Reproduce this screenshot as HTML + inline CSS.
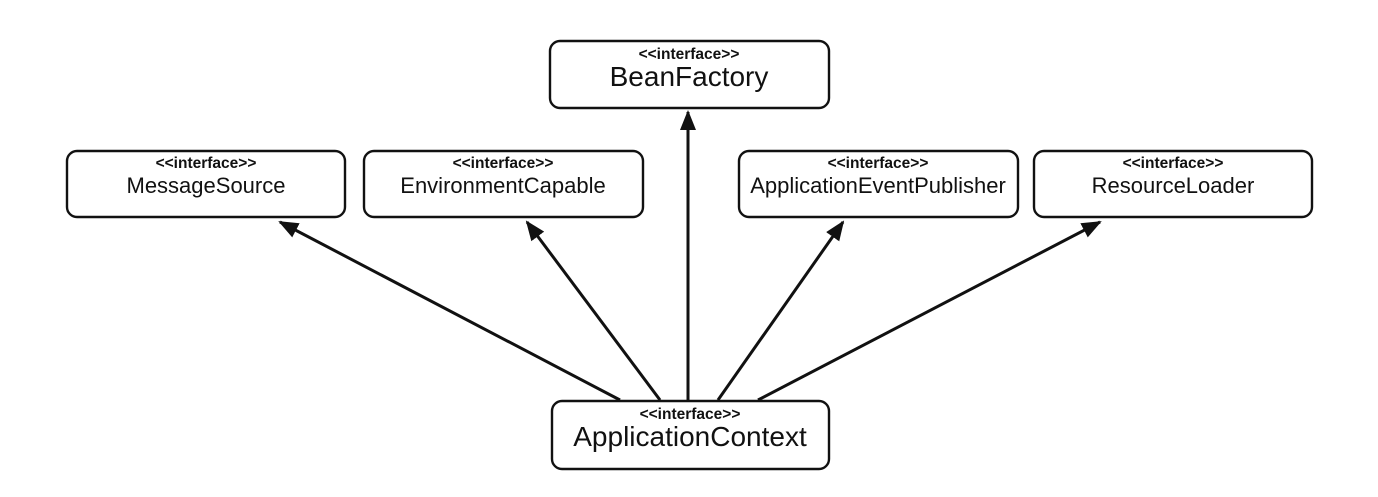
<!DOCTYPE html>
<html><head><meta charset="utf-8"><style>
html,body{margin:0;padding:0;background:#fff;}
svg text{font-family:"Liberation Sans",Arial,sans-serif;fill:#111;text-anchor:middle;}
</style></head><body>
<svg width="1378" height="492" viewBox="0 0 1378 492" xmlns="http://www.w3.org/2000/svg">
<defs>
<marker id="b" viewBox="0 0 20 20" refX="18" refY="10" markerWidth="20" markerHeight="20" orient="auto" markerUnits="userSpaceOnUse">
<path d="M0,2 L20,10 L0,18 Z" fill="#111"/>
</marker>
</defs>
<g fill="#fff" stroke="#111" stroke-width="2.4">
<rect x="550" y="41" width="279" height="67" rx="10"/>
<rect x="67" y="151" width="278" height="66" rx="10"/>
<rect x="364" y="151" width="279" height="66" rx="10"/>
<rect x="739" y="151" width="279" height="66" rx="10"/>
<rect x="1034" y="151" width="278" height="66" rx="10"/>
<rect x="552" y="401" width="277" height="68" rx="10"/>
</g>
<g stroke="#111" stroke-width="3" fill="none">
<line x1="688" y1="400" x2="688" y2="112" marker-end="url(#b)"/>
<line x1="620" y1="400" x2="280" y2="222" marker-end="url(#b)"/>
<line x1="660" y1="400" x2="527" y2="222" marker-end="url(#b)"/>
<line x1="718" y1="400" x2="843" y2="222" marker-end="url(#b)"/>
<line x1="758" y1="400" x2="1100" y2="222" marker-end="url(#b)"/>
</g>
<g font-weight="bold" font-size="15.5">
<text x="689" y="59">&lt;&lt;interface&gt;&gt;</text>
<text x="206" y="168">&lt;&lt;interface&gt;&gt;</text>
<text x="503" y="168">&lt;&lt;interface&gt;&gt;</text>
<text x="878" y="168">&lt;&lt;interface&gt;&gt;</text>
<text x="1173" y="168">&lt;&lt;interface&gt;&gt;</text>
<text x="690" y="419">&lt;&lt;interface&gt;&gt;</text>
</g>
<g font-size="22">
<text x="206" y="193">MessageSource</text>
<text x="503" y="193">EnvironmentCapable</text>
<text x="878" y="193">ApplicationEventPublisher</text>
<text x="1173" y="193">ResourceLoader</text>
</g>
<g font-size="28">
<text x="689" y="86">BeanFactory</text>
<text x="690" y="446">ApplicationContext</text>
</g>
</svg>
</body></html>
